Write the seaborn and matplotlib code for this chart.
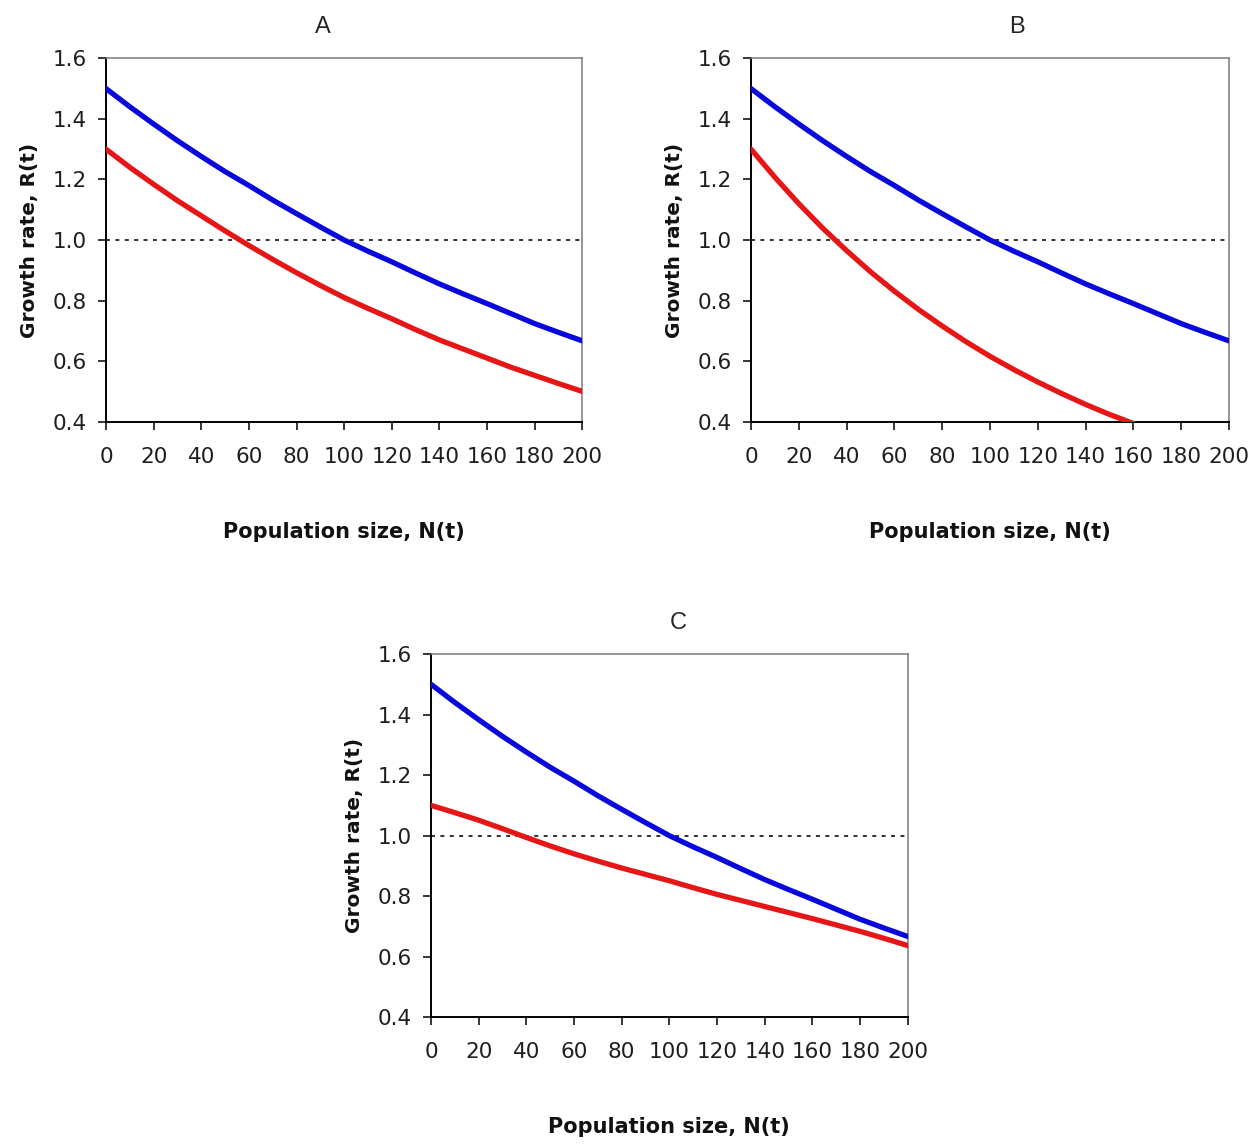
import matplotlib
matplotlib.use("Agg")
import matplotlib.pyplot as plt
import numpy as np
import pandas as pd
import seaborn as sns

# Population size N(t) at which the growth rate is tabulated
pop_size = [0, 10, 20, 30, 40, 50, 60, 70, 80, 90, 100,
            110, 120, 130, 140, 150, 160, 170, 180, 190, 200]

# Upper curve (same in every panel)
rate_high = [1.500, 1.440, 1.383, 1.328, 1.276, 1.226, 1.180, 1.132, 1.087, 1.043, 1.000,
             0.963, 0.928, 0.891, 0.855, 0.822, 0.790, 0.757, 0.724, 0.695, 0.667]

# Lower curves, one per panel
rate_low_a = [1.300, 1.240, 1.184, 1.130, 1.080, 1.030, 0.982, 0.936, 0.892, 0.850, 0.810,
              0.774, 0.740, 0.704, 0.670, 0.640, 0.610, 0.580, 0.553, 0.526, 0.500]
rate_low_b = [1.300, 1.207, 1.120, 1.039, 0.965, 0.895, 0.831, 0.771, 0.716, 0.664, 0.616,
              0.572, 0.531, 0.493, 0.457, 0.424, 0.394, 0.366, 0.339, 0.315, 0.292]
rate_low_c = [1.100, 1.076, 1.051, 1.023, 0.994, 0.966, 0.940, 0.916, 0.893, 0.872, 0.851,
              0.828, 0.806, 0.786, 0.766, 0.746, 0.726, 0.705, 0.684, 0.661, 0.637]

panel_names = ["A", "B", "C"]
x_ticks = [0, 20, 40, 60, 80, 100, 120, 140, 160, 180, 200]
y_ticks = [0.4, 0.6, 0.8, 1.0, 1.2, 1.4, 1.6]
equilibrium = 1.0

sns.set_style("ticks")
plt.rcParams["font.family"] = ["DejaVu Sans"]

W, H = 1250, 1145
fig = plt.figure(figsize=(W / 100, H / 100), dpi=100)
fig.patch.set_facecolor("white")

# axes rectangles in pixels: left, top, right, bottom
rects_px = {
    "A": (106, 58.3, 582.3, 421.7),
    "B": (751, 58.3, 1229, 421.7),
    "C": (431, 654.0, 907.7, 1017.3),
}
title_px = {"A": (323, 27), "B": (1017, 27), "C": (678, 623)}
low_curves = {"A": rate_low_a, "B": rate_low_b, "C": rate_low_c}

blue = "#0808dc"
red = "#e61616"

for name in panel_names:
    l, t, r, b = rects_px[name]
    ax = fig.add_axes([l / W, 1 - b / H, (r - l) / W, (b - t) / H])
    ax.set_facecolor("white")

    df = pd.DataFrame({
        "N": pop_size * 2,
        "R": rate_high + low_curves[name],
        "curve": ["high"] * len(pop_size) + ["low"] * len(pop_size),
    })
    ax.axhline(equilibrium, color="#222222", lw=1.3, dashes=(2.2, 3.0), zorder=1)
    sns.lineplot(data=df, x="N", y="R", hue="curve",
                 palette={"high": blue, "low": red},
                 lw=3.8, legend=False, ax=ax, zorder=3)

    ax.set_xlim(0, 200)
    ax.set_ylim(0.4, 1.6)
    ax.set_xticks(x_ticks)
    ax.set_yticks(y_ticks)
    ax.set_xticklabels([str(v) for v in x_ticks])
    ax.set_yticklabels([f"{v:.1f}" for v in y_ticks])

    for side in ("left", "bottom"):
        ax.spines[side].set_color("black")
        ax.spines[side].set_linewidth(1.4)
    for side in ("top", "right"):
        ax.spines[side].set_visible(True)
        ax.spines[side].set_color("#7a7a7a")
        ax.spines[side].set_linewidth(1.1)

    ax.tick_params(axis="x", direction="out", length=6, width=1.1,
                   pad=12, labelsize=15.5, labelcolor="#1e1e1e", color="black")
    ax.tick_params(axis="y", direction="out", length=6, width=1.1,
                   pad=8, labelsize=15.5, labelcolor="#1e1e1e", color="black")

    ax.set_xlabel("Population size, N(t)", fontsize=15, fontweight="bold",
                  color="#111111")
    ax.set_ylabel("Growth rate, R(t)", fontsize=14.5, fontweight="bold",
                  color="#111111")
    ax.xaxis.set_label_coords(0.5, -0.275)
    ax.yaxis.set_label_coords(-0.140, 0.5)

    tx, ty = title_px[name]
    fig.text(tx / W, 1 - ty / H, name, ha="center", va="center",
             fontsize=17, family=["Liberation Sans", "DejaVu Sans"])

fig.savefig("out.png", dpi=100, facecolor="white")
